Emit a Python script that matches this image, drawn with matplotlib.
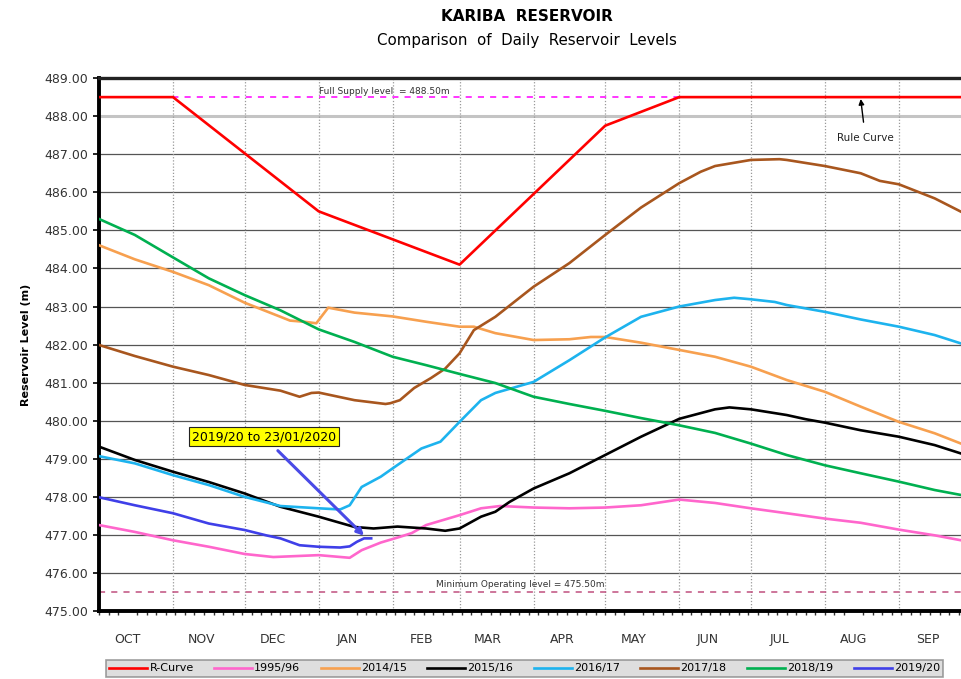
import matplotlib
matplotlib.use("Agg")
import matplotlib.pyplot as plt
from matplotlib.ticker import MultipleLocator, FormatStrFormatter

# days counted from 1 October
month_names = ["OCT", "NOV", "DEC", "JAN", "FEB", "MAR", "APR", "MAY", "JUN", "JUL", "AUG", "SEP"]
month_start = [0, 31, 61, 92, 123, 151, 182, 212, 243, 273, 304, 335]

# ---- series (day, level m) ----
rc_days = [0, 31, 92, 151, 212, 243, 361]
rc_lvl = [488.5, 488.5, 485.5, 484.1, 487.75, 488.5, 488.5]

d9596 = [0, 15, 31, 46, 61, 73, 92, 105, 110, 118, 126, 131, 137, 151, 160, 168, 182, 197, 212, 227, 243, 258, 273, 288, 304, 319, 335, 350, 361]
l9596 = [477.26, 477.08, 476.86, 476.69, 476.50, 476.42, 476.47, 476.40, 476.60, 476.80, 476.95, 477.05, 477.26, 477.52, 477.70, 477.76, 477.72, 477.70, 477.72, 477.78, 477.93, 477.84, 477.70, 477.57, 477.43, 477.32, 477.14, 476.99, 476.86]

d1415 = [0, 15, 31, 46, 61, 76, 80, 86, 91, 96, 107, 123, 137, 151, 157, 166, 182, 197, 206, 212, 227, 243, 258, 273, 288, 304, 319, 335, 350, 361]
l1415 = [484.61, 484.24, 483.91, 483.56, 483.10, 482.73, 482.63, 482.60, 482.56, 482.97, 482.84, 482.74, 482.60, 482.47, 482.47, 482.30, 482.12, 482.14, 482.20, 482.20, 482.05, 481.86, 481.68, 481.42, 481.07, 480.76, 480.37, 479.97, 479.67, 479.40]

d1516 = [0, 15, 31, 46, 61, 76, 92, 107, 115, 125, 137, 145, 151, 160, 166, 172, 182, 197, 212, 227, 243, 258, 264, 273, 288, 296, 304, 319, 335, 350, 361]
l1516 = [479.32, 478.97, 478.66, 478.39, 478.09, 477.74, 477.48, 477.21, 477.17, 477.22, 477.17, 477.11, 477.17, 477.48, 477.61, 477.87, 478.22, 478.62, 479.10, 479.58, 480.05, 480.30, 480.35, 480.30, 480.15, 480.04, 479.95, 479.75, 479.58, 479.36, 479.14]

d1617 = [0, 15, 31, 46, 61, 76, 92, 101, 105, 110, 118, 123, 135, 143, 151, 160, 166, 182, 197, 212, 227, 243, 258, 266, 273, 283, 288, 304, 319, 335, 350, 361]
l1617 = [479.07, 478.88, 478.57, 478.31, 478.00, 477.76, 477.70, 477.67, 477.78, 478.26, 478.53, 478.75, 479.27, 479.45, 479.97, 480.54, 480.73, 481.02, 481.59, 482.19, 482.73, 483.00, 483.17, 483.23, 483.19, 483.12, 483.04, 482.86, 482.66, 482.47, 482.25, 482.03]

d1718 = [0, 15, 31, 46, 61, 76, 84, 89, 92, 107, 120, 122, 126, 132, 139, 145, 151, 157, 166, 182, 197, 212, 227, 243, 252, 258, 273, 285, 288, 304, 319, 327, 335, 350, 361]
l1718 = [481.99, 481.70, 481.42, 481.20, 480.94, 480.79, 480.63, 480.73, 480.74, 480.54, 480.44, 480.46, 480.54, 480.86, 481.12, 481.37, 481.77, 482.38, 482.73, 483.52, 484.14, 484.88, 485.60, 486.24, 486.54, 486.69, 486.85, 486.87, 486.85, 486.69, 486.50, 486.30, 486.21, 485.84, 485.49]

d1819 = [0, 15, 31, 46, 61, 76, 92, 107, 123, 137, 151, 166, 182, 197, 212, 227, 243, 258, 273, 288, 304, 319, 335, 350, 361]
l1819 = [485.30, 484.88, 484.29, 483.74, 483.30, 482.90, 482.40, 482.07, 481.68, 481.46, 481.23, 480.99, 480.63, 480.44, 480.26, 480.07, 479.88, 479.68, 479.40, 479.10, 478.83, 478.62, 478.40, 478.18, 478.05]

d1920 = [0, 15, 31, 46, 61, 70, 76, 84, 92, 101, 105, 108, 111, 114]
l1920 = [477.99, 477.78, 477.57, 477.30, 477.13, 476.99, 476.91, 476.73, 476.69, 476.67, 476.70, 476.82, 476.91, 476.91]

series = [
    ("R-Curve", rc_days, rc_lvl, "#ff0000"),
    ("1995/96", d9596, l9596, "#ff66cc"),
    ("2014/15", d1415, l1415, "#f7a04f"),
    ("2015/16", d1516, l1516, "#000000"),
    ("2016/17", d1617, l1617, "#1db3ee"),
    ("2017/18", d1718, l1718, "#a8561e"),
    ("2018/19", d1819, l1819, "#00b050"),
    ("2019/20", d1920, l1920, "#3f3fe8"),
]

full_supply = 488.5
min_operating = 475.5

fig = plt.figure(figsize=(9.61, 6.79), dpi=100)
ax = fig.add_axes([0.103, 0.100, 0.897, 0.785])

# grid
for y in range(476, 489):
    if y == 488:
        ax.axhline(y, color="#c4c4c4", lw=2.2, zorder=1)
    else:
        ax.axhline(y, color="#555555", lw=0.9, zorder=1)
for m in month_start[1:]:
    ax.axvline(m, color="#999999", lw=0.9, ls=(0, (1, 1.5)), zorder=1)

ax.axhline(full_supply, color="#ff00ff", lw=1.1, ls=(0, (4, 4)), zorder=2)
ax.axhline(min_operating, color="#c0507f", lw=1.1, ls=(0, (4, 4)), zorder=2)
ax.text(92, full_supply + 0.02, "Full Supply level  = 488.50m", fontsize=6.5, color="#333333", va="bottom")
ax.text(141, min_operating + 0.08, "Minimum Operating level = 475.50m", fontsize=6.5, color="#333333", va="bottom")

lines = []
for name, d, l, c in series:
    ln, = ax.plot(d, l, color=c, lw=1.9, label=name, zorder=3)
    lines.append(ln)

ax.set_xlim(0, 361)
ax.set_ylim(475, 489)
ax.yaxis.set_major_locator(MultipleLocator(1))
ax.yaxis.set_major_formatter(FormatStrFormatter("%.2f"))
ax.tick_params(axis="y", labelsize=9, labelcolor="#333333", length=4, width=1.2)

ax.set_xticks([m + 12 for m in month_start])
ax.set_xticklabels(month_names)
ax.tick_params(axis="x", which="major", length=0, pad=16, labelsize=9, labelcolor="#333333")
ax.xaxis.set_minor_locator(MultipleLocator(4))
ax.tick_params(axis="x", which="minor", length=3, width=1.0, color="#333333")

for s in ["left", "bottom"]:
    ax.spines[s].set_linewidth(2.8)
ax.spines["top"].set_linewidth(2.4)
ax.spines["top"].set_color("#222222")
ax.spines["right"].set_visible(False)

ax.set_ylabel("Reservoir Level (m)", fontsize=8, fontweight="bold", labelpad=10)

# annotations
ax.annotate("Rule Curve", xy=(319, 488.45), xytext=(321, 487.42), fontsize=7.5, color="#222222",
            ha="center", va="center",
            arrowprops=dict(arrowstyle="-|>", color="black", lw=1.0, shrinkA=6, shrinkB=0, mutation_scale=8))
ax.annotate("2019/20 to 23/01/2020", xy=(111, 476.98), xytext=(69, 479.58), fontsize=9,
            ha="center", va="center",
            bbox=dict(boxstyle="square,pad=0.25", fc="#ffff00", ec="#222222", lw=0.8),
            arrowprops=dict(arrowstyle="-|>", color="#4a4ae6", lw=2.2, shrinkA=4, shrinkB=0, mutation_scale=10))

fig.text(0.548, 0.975, "KARIBA  RESERVOIR", ha="center", va="center", fontsize=11, fontweight="bold")
fig.text(0.548, 0.941, "Comparison  of  Daily  Reservoir  Levels", ha="center", va="center", fontsize=10.8)

leg = fig.legend(handles=lines, loc="upper center", bbox_to_anchor=(0.546, 0.036), ncol=8,
                 fontsize=8, frameon=True, fancybox=False, handlelength=3.4, handletextpad=0.2,
                 columnspacing=1.85, borderpad=0.3)
leg.get_frame().set_facecolor("#d6d6d6")
leg.get_frame().set_edgecolor("#888888")
leg.get_frame().set_linewidth(1.2)

fig.savefig("out.png", dpi=100)
